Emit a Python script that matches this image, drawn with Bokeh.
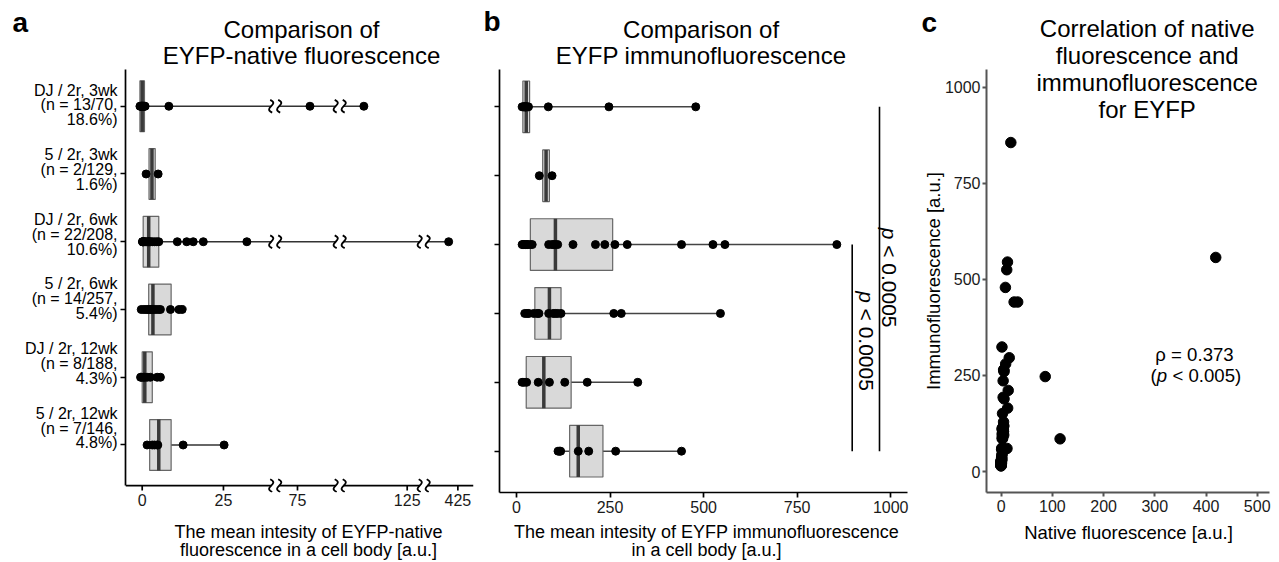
from bokeh.plotting import figure
from bokeh.models import Range1d, FixedTicker, Label
from bokeh.layouts import row, column
from bokeh.embed import file_html
from bokeh.resources import INLINE
import math

FONT = "Liberation Sans"

# ---------------- data ----------------
groups = ["DJ / 2r, 3wk", "5 / 2r, 3wk", "DJ / 2r, 6wk", "5 / 2r, 6wk", "DJ / 2r, 12wk", "5 / 2r, 12wk"]
counts = ["(n = 13/70,", "(n = 2/129,", "(n = 22/208,", "(n = 14/257,", "(n = 8/188,", "(n = 7/146,"]
percents = ["18.6%)", "1.6%)", "10.6%)", "5.4%)", "4.3%)", "4.8%)"]

# paired values per cell (native fluorescence, immunofluorescence)
native_dj_3wk = [-0.7, -0.5, -0.3, -0.2, 0.0, 0.1, 0.3, 0.5, 0.7, 0.9, 115, 86, 8.2]
immuno_dj_3wk = [15, 18, 20, 22, 23, 24, 25, 26, 28, 32, 85, 247, 479]
native_5_3wk = [1.2, 4.9]
immuno_5_3wk = [61, 95]
native_dj_6wk = [0.1, 0.2, 0.1, 0.3, 0.4, 0.6, 0.9, 1.3, 1.8, 2.0, 2.2, 4.5, 3.1, 2.6, 13.7, 3.8, 5.1, 15.7, 32.2, 10.8, 419, 18.8]
immuno_dj_6wk = [15, 18, 20, 24, 28, 30, 37, 42, 86, 95, 100, 104, 110, 151, 211, 236, 263, 296, 441, 525, 557, 856]
native_5_6wk = [0.5, -0.3, 1.2, 1.8, 2.3, 11.3, 2.8, 3.1, 3.5, 4.2, 5.0, 5.6, 8.7, 12.3]
immuno_5_6wk = [22, 28, 33, 46, 55, 60, 86, 98, 104, 110, 119, 260, 280, 545]
native_dj_12wk = [-0.5, 0.3, -0.2, 0.8, 2.5, 4.6, 5.6, 1.5]
immuno_dj_12wk = [15, 20, 27, 58, 88, 129, 189, 324]
native_5_12wk = [1.5, 3.1, 4.6, 3.8, 12.6, 4.8, 25.2]
immuno_5_12wk = [111, 115, 118, 193, 165, 265, 441]

native_q1 = [-0.7, 2.1, 0.3, 2.0, 0.0, 2.3]
native_median = [0.0, 3.0, 2.0, 3.3, 0.8, 5.1]
native_q3 = [0.7, 4.0, 5.1, 8.9, 3.1, 8.9]
immuno_q1 = [17, 70, 37, 49, 26, 142]
immuno_median = [26, 79, 104, 88, 73, 165]
immuno_q3 = [35, 88, 257, 119, 146, 231]

native_ticks = [0, 25, 75, 125, 425]
native_axis_segments = [(0, 40), (58, 110), (110, 128), (405, 435)]
immuno_ticks = [0, 250, 500, 750, 1000]
corr_x_ticks = [0, 100, 200, 300, 400, 500]
corr_y_ticks = [0, 250, 500, 750, 1000]

bracket_from = [3, 1]
bracket_to = [6, 6]
p_group_text = "< 0.0005"
rho_text = "\u03c1 = 0.373"
p_corr_text = "< 0.005)"

native_groups = [native_dj_3wk, native_5_3wk, native_dj_6wk, native_5_6wk, native_dj_12wk, native_5_12wk]
immuno_groups = [immuno_dj_3wk, immuno_5_3wk, immuno_dj_6wk, immuno_5_6wk, immuno_dj_12wk, immuno_5_12wk]
rows = list(range(1, len(groups) + 1))

# ---------------- layout helpers (page pixel -> data) ----------------
ROW_PX = 429 / 6.2
TOP = 69          # page y where the plotting row starts
FOOT = 522        # page y where the footer starts
MAIN_H = FOOT - TOP


def ya(py):
    return 0.4 + (py - 65) / ROW_PX


def xa(px):
    return px - 141.7


def xb(px):
    return (px - 516) / 0.3742


def xc(px):
    return (px - 1000.7) / 0.512


def yc(py):
    return (471 - py) / 0.3843


SEG_DISPLAY = [(0, 130), (136, 195), (200, 278), (285, 331)]


def broken(v):
    n = len(native_axis_segments)
    for k, ((d0, d1), (s0, s1)) in enumerate(zip(native_axis_segments, SEG_DISPLAY)):
        if v <= d1 or k == n - 1:
            return s0 + (v - d0) * (s1 - s0) / (d1 - d0)


def make_fig(width, bl, br, bt, bb, xr, yr, axis_color="black", axis_w=1.7):
    p = figure(width=width, height=MAIN_H, x_range=xr, y_range=yr,
               output_backend="svg", toolbar_location=None,
               min_border_left=bl, min_border_right=br,
               min_border_top=bt, min_border_bottom=bb)
    p.xgrid.visible = False
    p.ygrid.visible = False
    p.outline_line_color = None
    for ax in (p.xaxis, p.yaxis):
        ax.major_tick_in = 0
        ax.major_tick_out = 5
        ax.minor_tick_line_color = None
        ax.axis_line_color = axis_color
        ax.axis_line_width = axis_w
        ax.major_tick_line_color = axis_color
        ax.major_tick_line_width = axis_w
        ax.major_label_text_font = FONT
        ax.major_label_text_font_size = "16px"
        ax.major_label_text_color = "#1a1a1a"
        ax.major_label_standoff = 3
    return p


def aux_fig(width, height, x0, x1, y0, y1):
    p = figure(width=width, height=height, x_range=Range1d(x0, x1), y_range=Range1d(y1, y0),
               output_backend="svg", toolbar_location=None, min_border=0,
               x_axis_location=None, y_axis_location=None)
    p.xgrid.visible = False
    p.ygrid.visible = False
    p.outline_line_color = None
    return p


def txt(p, x, y, s, size, align="center", style="normal", angle=0.0, ydir=1.0):
    """Text with its baseline at y (ydir = panel y units per page px, downwards)."""
    px = float(size.replace("px", ""))
    p.add_layout(Label(x=x, y=y - ydir * 0.3465 * px, text=s, text_font=FONT, text_font_size=size,
                       text_align=align, text_baseline="middle", text_font_style=style,
                       angle=angle, text_color="black"))


def mtxt(p, x, y, s, size, align="center", style="normal", angle=0.0):
    p.add_layout(Label(x=x, y=y, text=s, text_font=FONT, text_font_size=size,
                       text_align=align, text_baseline="middle", text_font_style=style,
                       angle=angle, text_color="black"))


BOX_FILL = "#d9d9d9"
BOX_LINE = "#666666"
MED_COLOR = "#3a3a3a"
WHISK = "#333333"

# ================= header / footer / left labels (page pixel coordinates) =================
header = aux_fig(1279, TOP, 0, 1279, 0, TOP)
footer = aux_fig(1279, 562 - FOOT, 0, 1279, FOOT, 562)
aleft = aux_fig(119, MAIN_H, 0, 119, TOP, FOOT)

txt(header, 12, 32, "a", "28px", align="left", style="bold")
txt(header, 301, 37.7, "Comparison of", "24px")
txt(header, 301, 63.5, "EYFP-native fluorescence", "24px")
txt(header, 483, 31, "b", "28px", align="left", style="bold")
txt(header, 700.6, 37.7, "Comparison of", "24px")
txt(header, 700.6, 63.3, "EYFP immunofluorescence", "24px")
txt(header, 921, 32, "c", "28px", align="left", style="bold")
txt(header, 1146.7, 36.7, "Correlation of native", "24px")
txt(header, 1146.7, 63.5, "fluorescence and", "24px")

txt(footer, 308, 538, "The mean intesity of EYFP-native", "18px")
txt(footer, 308, 556, "fluorescence in a cell body [a.u.]", "18px")
txt(footer, 706, 538, "The mean intesity of EYFP immunofluorescence", "18px")
txt(footer, 706, 556, "in a cell body [a.u.]", "18px")
txt(footer, 1128, 538, "Native fluorescence [a.u.]", "18.5px")

for r, a, b, c in zip(rows, groups, counts, percents):
    row_py = 65 + (r - 0.4) * ROW_PX
    for off, s in zip((-15.5, 0.5, 16.5), (a, b, c)):
        mtxt(aleft, 117, row_py + off, s, "16px", align="right")

# ================= panel a (broken x axis) =================
AX_Y = ya(494)
pa = make_fig(361, 6, 7, 0, 21, Range1d(xa(125), xa(473)), Range1d(ya(501), ya(TOP)))
pa.xaxis.ticker = FixedTicker(ticks=[broken(t) for t in native_ticks])
pa.xaxis.major_label_overrides = {broken(t): str(t) for t in native_ticks}
pa.xaxis.axis_line_color = None
pa.xaxis.major_tick_out = 0
pa.xaxis.major_label_standoff = 1
pa.yaxis.ticker = FixedTicker(ticks=rows)
pa.yaxis.major_label_overrides = {r: "" for r in rows}
pa.yaxis.major_label_standoff = 0
pa.yaxis.bounds = (ya(TOP), AX_Y)

# x axis line and ticks drawn inside the frame so the break marks can cross it
pa.segment(x0=[xa(125)], y0=[AX_Y], x1=[xa(473)], y1=[AX_Y], line_color="black", line_width=1.9)
tick_pos = [broken(t) for t in native_ticks]
pa.segment(x0=tick_pos, y0=[AX_Y] * len(tick_pos), x1=tick_pos,
           y1=[AX_Y + 5 / ROW_PX] * len(tick_pos), line_color="black", line_width=1.7)

pa.segment(x0=[broken(min(g)) for g in native_groups], y0=rows,
           x1=[broken(max(g)) for g in native_groups], y1=rows,
           line_color=WHISK, line_width=1.5)
pa.hbar(y=rows, height=0.75, left=[broken(v) for v in native_q1],
        right=[broken(v) for v in native_q3], fill_color=BOX_FILL, line_color=BOX_LINE, line_width=1.2)
pa.segment(x0=[broken(v) for v in native_median], y0=[r - 0.375 for r in rows],
           x1=[broken(v) for v in native_median], y1=[r + 0.375 for r in rows],
           line_color=MED_COLOR, line_width=3.5)
px_, py_ = [], []
for r, g in zip(rows, native_groups):
    for v in g:
        px_.append(broken(v))
        py_.append(r)
pa.scatter(px_, py_, size=8, fill_color="black", line_color="black")

# break marks (double squiggle) on whiskers and on the axis
bk_x, bk_y = [], []
for k in range(len(SEG_DISPLAY) - 1):
    mid = (SEG_DISPLAY[k][1] + SEG_DISPLAY[k + 1][0]) / 2
    thr = native_axis_segments[k + 1][0]
    for r, g in zip(rows, native_groups):
        if max(g) > thr:
            bk_x.append(mid)
            bk_y.append(r)
    bk_x.append(mid)
    bk_y.append(AX_Y)
h = 6.5 / ROW_PX
pa.quad(left=[x - 4 for x in bk_x], right=[x + 4 for x in bk_x],
        top=[y - 2.5 / ROW_PX for y in bk_y], bottom=[y + 2.5 / ROW_PX for y in bk_y],
        fill_color="white", line_color=None)
for dx in (-4, 4):
    pa.bezier(x0=[x + dx - 1 for x in bk_x], y0=[y - h for y in bk_y],
              x1=[x + dx + 1 for x in bk_x], y1=[y + h for y in bk_y],
              cx0=[x + dx + 9 for x in bk_x], cy0=[y - h / 4 for y in bk_y],
              cx1=[x + dx - 9 for x in bk_x], cy1=[y + h / 4 for y in bk_y],
              line_color="black", line_width=1.8)

# ================= panel b =================
pb = make_fig(430, 19, 3, 0, 28, Range1d(xb(499), xb(907)), Range1d(ya(494), ya(TOP)))
pb.xaxis.ticker = FixedTicker(ticks=immuno_ticks)
pb.yaxis.ticker = FixedTicker(ticks=rows)
pb.yaxis.major_label_overrides = {r: "" for r in rows}
pb.yaxis.major_label_standoff = 0

pb.segment(x0=[min(g) for g in immuno_groups], y0=rows, x1=[max(g) for g in immuno_groups], y1=rows,
           line_color="#444444", line_width=1.5)
pb.hbar(y=rows, height=0.75, left=immuno_q1, right=immuno_q3,
        fill_color=BOX_FILL, line_color=BOX_LINE, line_width=1.2)
pb.segment(x0=immuno_median, y0=[r - 0.375 for r in rows], x1=immuno_median, y1=[r + 0.375 for r in rows],
           line_color=MED_COLOR, line_width=3.5)
bx_, by_ = [], []
for r, g in zip(rows, immuno_groups):
    for v in g:
        bx_.append(v)
        by_.append(r)
pb.scatter(bx_, by_, size=8, fill_color="black", line_color="black")

bracket_x = [xb(851.7), xb(879)]
pb.segment(x0=bracket_x, y0=bracket_from, x1=bracket_x, y1=bracket_to, line_color="black", line_width=1.6)
for tx, ty0 in ((866, 291.7), (889, 228)):
    mtxt(pb, xb(tx), ya(ty0), "p", "21px", align="left", style="italic", angle=-math.pi / 2)
    mtxt(pb, xb(tx), ya(ty0 + 17.5), p_group_text, "21px", align="left", angle=-math.pi / 2)

# ================= panel c =================
pc = make_fig(369, 76, 10, 0, 30, Range1d(xc(986), xc(1269)), Range1d(yc(492), yc(TOP)),
              axis_color="#555555", axis_w=2)
pc.xaxis.ticker = FixedTicker(ticks=corr_x_ticks)
pc.yaxis.ticker = FixedTicker(ticks=corr_y_ticks)
pc.xaxis.major_tick_out = 4
pc.yaxis.major_tick_out = 4
pc.yaxis.major_label_standoff = 2
pc.yaxis.axis_label = "Immunofluorescence [a.u.]"
pc.yaxis.axis_label_text_font = FONT
pc.yaxis.axis_label_text_font_size = "18.5px"
pc.yaxis.axis_label_text_font_style = "normal"
pc.yaxis.axis_label_text_color = "black"
pc.yaxis.axis_label_standoff = -2
all_native = [v for g in native_groups for v in g]
all_immuno = [v for g in immuno_groups for v in g]
pc.scatter(all_native, all_immuno, size=10.5, fill_color="black", line_color="black")

CY = -1 / 0.3843   # panel-c y units per page pixel (downwards)
txt(pc, xc(1146.7), yc(90.5), "immunofluorescence", "24px", ydir=CY)
txt(pc, xc(1146.7), yc(117.3), "for EYFP", "24px", ydir=CY)
txt(pc, xc(1194), yc(360), rho_text, "18.6px", ydir=CY)
txt(pc, xc(1150), yc(381.7), "(", "18.6px", align="left", ydir=CY)
txt(pc, xc(1156.3), yc(381.7), "p", "18.6px", align="left", style="italic", ydir=CY)
txt(pc, xc(1172), yc(381.7), p_corr_text, "18.6px", align="left", ydir=CY)

layout = column(header, row(aleft, pa, pb, pc), footer)
open("out.html", "w").write(file_html(layout, INLINE))
